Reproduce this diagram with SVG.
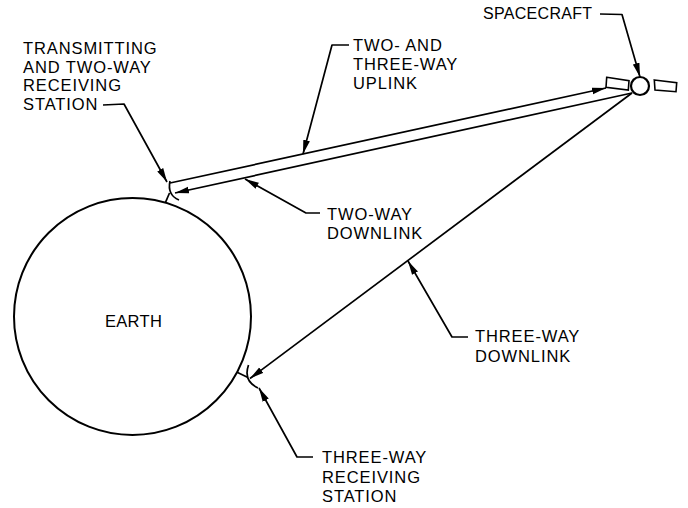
<svg xmlns="http://www.w3.org/2000/svg" width="688" height="508" viewBox="0 0 688 508">
<style>
  .ln{fill:none;stroke:#000;stroke-width:1.7;stroke-linejoin:round}
  .lb{font-family:"Liberation Sans",Arial,sans-serif;font-size:16.5px;letter-spacing:0.9px;fill:#000}
</style>
<defs>
  <marker id="ah" markerWidth="14" markerHeight="8" refX="14" refY="4" orient="auto" markerUnits="userSpaceOnUse">
    <path d="M0,0.6 L14,4 L0,7.4 Z" fill="#000"/>
  </marker>
</defs>
<rect width="688" height="508" fill="#fff"/>

<g id="earth">
  <circle cx="132.5" cy="316.5" r="118.5" fill="none" stroke="#000" stroke-width="2"/>
  <text class="lb" x="105" y="327" style="letter-spacing:0.3px">EARTH</text>
</g>

<g id="spacecraft">
  <circle cx="640" cy="86" r="9" fill="#fff" stroke="#000" stroke-width="2.2"/>
  <polygon points="606.7,77.3 629,80.7 628.3,90 606,87.3" fill="#fff" stroke="#000" stroke-width="1.6"/>
  <polygon points="654.3,80 676.7,82.7 676,91.7 655,90" fill="#fff" stroke="#000" stroke-width="1.6"/>
</g>

<g id="station-transmitting">
  <path class="ln" d="M165.4,202.7 L169.5,193"/>
  <path class="ln" d="M170,181 Q167,195 179,200"/>
</g>

<g id="station-three-way">
  <path class="ln" d="M237.1,372.2 L248,377.5"/>
  <path class="ln" d="M248.5,365 Q243,381 258,388"/>
</g>

<g id="connectors">
  <line class="ln" x1="170" y1="183" x2="606" y2="88" marker-end="url(#ah)"/>
  <line class="ln" x1="632" y1="93" x2="175" y2="193" marker-end="url(#ah)"/>
  <line class="ln" x1="632" y1="93" x2="250" y2="378.5" marker-end="url(#ah)"/>
  <polyline class="ln" points="103,105 124,104 167,182" marker-end="url(#ah)"/>
  <polyline class="ln" points="349,45 332,45 303,154" marker-end="url(#ah)"/>
  <polyline class="ln" points="600,14 622,14.5 640,77" marker-end="url(#ah)"/>
  <polyline class="ln" points="320,213 306,213 245,179" marker-end="url(#ah)"/>
  <polyline class="ln" points="468,337 452,337 408,261" marker-end="url(#ah)"/>
  <polyline class="ln" points="313,457 297,457 259,388" marker-end="url(#ah)"/>
</g>

<g id="label-transmitting">
  <text class="lb" x="23" y="54">TRANSMITTING<tspan x="23" dy="18.6">AND TWO-WAY</tspan><tspan x="23" dy="18.6">RECEIVING</tspan><tspan x="23" dy="18.6">STATION</tspan></text>
</g>
<g id="label-uplink">
  <text class="lb" x="353" y="50.5">TWO- AND<tspan x="353" dy="19.2">THREE-WAY</tspan><tspan x="353" dy="19.2">UPLINK</tspan></text>
</g>
<g id="label-spacecraft">
  <text class="lb" x="483" y="19" style="letter-spacing:0.3px;font-size:16px">SPACECRAFT</text>
</g>
<g id="label-two-way-downlink">
  <text class="lb" x="327" y="220">TWO-WAY<tspan x="327" dy="19">DOWNLINK</tspan></text>
</g>
<g id="label-three-way-downlink">
  <text class="lb" x="475" y="342">THREE-WAY<tspan x="475" dy="20">DOWNLINK</tspan></text>
</g>
<g id="label-three-way-station">
  <text class="lb" x="322" y="463">THREE-WAY<tspan x="322" dy="19.5">RECEIVING</tspan><tspan x="322" dy="19.5">STATION</tspan></text>
</g>
</svg>
